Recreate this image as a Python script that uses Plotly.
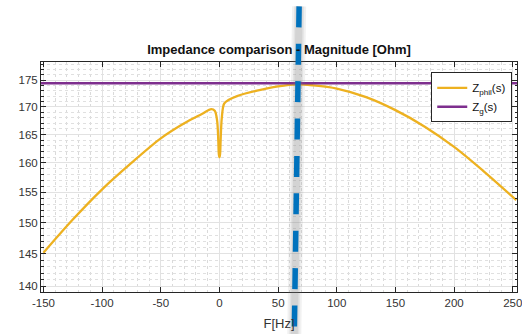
import plotly.graph_objects as go
import numpy as np

# ---- data ----
freq = [-150, -125, -100, -75, -50, -30, -15, -7, -4, -2, -1, -0.5, 0, 0.5, 1, 2, 4, 8, 15, 32, 50, 66, 80, 100, 125, 150, 175, 200, 225, 253]
z_phil = [145.2, 150.5, 155.5, 160.0, 164.3, 167.0, 168.7, 169.6, 169.3, 167.5, 164.0, 161.5, 161.0, 161.5, 164.0, 168.0, 170.6, 171.3, 172.0, 173.0, 173.8, 174.2, 174.0, 173.4, 171.8, 169.4, 166.4, 162.8, 158.6, 153.7]
z_g_value = 174.4
x_ticks = [-150, -100, -50, 0, 50, 100, 150, 200, 250]
y_ticks = [140, 145, 150, 155, 160, 165, 170, 175]
x_minor = list(range(-150, 251, 10))
y_minor = list(range(139, 179))
marker_freq_top = 67.9     # blue dashed overlay line, top end
marker_freq_bottom = 63.7  # bottom end

x_range = [-152.1, 253.6]
y_range = [139.16, 178.45]

YELLOW = "#EDB120"
PURPLE = "#7E2F8E"
BLUE = "#0072BD"
AX = "#262626"
FONT = "Liberation Sans, Arial, sans-serif"

fig = go.Figure()
fig.add_trace(go.Scatter(x=freq, y=z_phil, mode="lines", name="Z<sub>phil</sub>(s)",
                         line=dict(color=YELLOW, width=2.3, shape="spline", smoothing=0.9)))
fig.add_trace(go.Scatter(x=[x_range[0], x_range[1]], y=[z_g_value, z_g_value], mode="lines",
                         name="Z<sub>g</sub>(s)", line=dict(color=PURPLE, width=2.5)))

fig.update_layout(
    width=522, height=334,
    margin=dict(l=41, r=0, t=62, b=42),
    paper_bgcolor="white", plot_bgcolor="white",
    font=dict(family=FONT, size=11, color=AX),
    title=dict(text="<b>Impedance comparison - Magnitude [Ohm]</b>", x=0.5, xref="paper",
               y=1 - 49 / 334, yanchor="middle", font=dict(size=13, color="#111111")),
    showlegend=True,
    legend=dict(x=0.99, y=0.955, xanchor="right", yanchor="top", bgcolor="white",
                bordercolor="#262626", borderwidth=1, font=dict(size=11.5, color="#111111"),
                itemwidth=30, tracegroupgap=0),
)
fig.update_xaxes(
    range=x_range, tickvals=x_ticks, ticktext=[str(v) for v in x_ticks],
    showline=True, linecolor=AX, linewidth=1, mirror="ticks", ticks="inside", ticklen=5,
    tickcolor=AX, showgrid=True, gridcolor="#e2e2e2", gridwidth=1, zeroline=False,
    tickfont=dict(size=11.5, color="#333333"), ticklabeloverflow="allow",
    title=dict(text="F[Hz]", font=dict(size=13, color="#333333"), standoff=11),
    minor=dict(tickvals=x_minor, showgrid=True, gridcolor="#dadada", griddash="dot", ticks=""),
)
fig.update_yaxes(
    type="log", range=[np.log10(y_range[0]), np.log10(y_range[1])],
    tickvals=y_ticks, ticktext=[str(v) for v in y_ticks],
    showline=True, linecolor=AX, linewidth=1, mirror="ticks", ticks="inside", ticklen=5,
    tickcolor=AX, showgrid=True, gridcolor="#e2e2e2", gridwidth=1, zeroline=False,
    tickfont=dict(size=11.5, color="#333333"),
    minor=dict(tickvals=y_minor, showgrid=True, gridcolor="#e0e0e0", griddash="dot",
               ticks="inside", ticklen=2.5, tickcolor=AX),
)

# blue dashed overlay line with a soft gray shadow
top_paper = (292.3 - 5.9) / 230.6
bot_paper = (292.3 - 340) / 230.6
for w, op in [(14, 0.10), (10, 0.12), (7, 0.15)]:
    fig.add_shape(type="line", xref="x", yref="paper",
                  x0=marker_freq_top, y0=top_paper, x1=marker_freq_bottom, y1=bot_paper,
                  line=dict(color="#808080", width=w), opacity=op, layer="above")
fig.add_shape(type="line", xref="x", yref="paper",
              x0=marker_freq_top, y0=top_paper, x1=marker_freq_bottom, y1=bot_paper,
              line=dict(color=BLUE, width=5.5, dash="21px,16.4px"), layer="above")

fig.write_html("out.html")
